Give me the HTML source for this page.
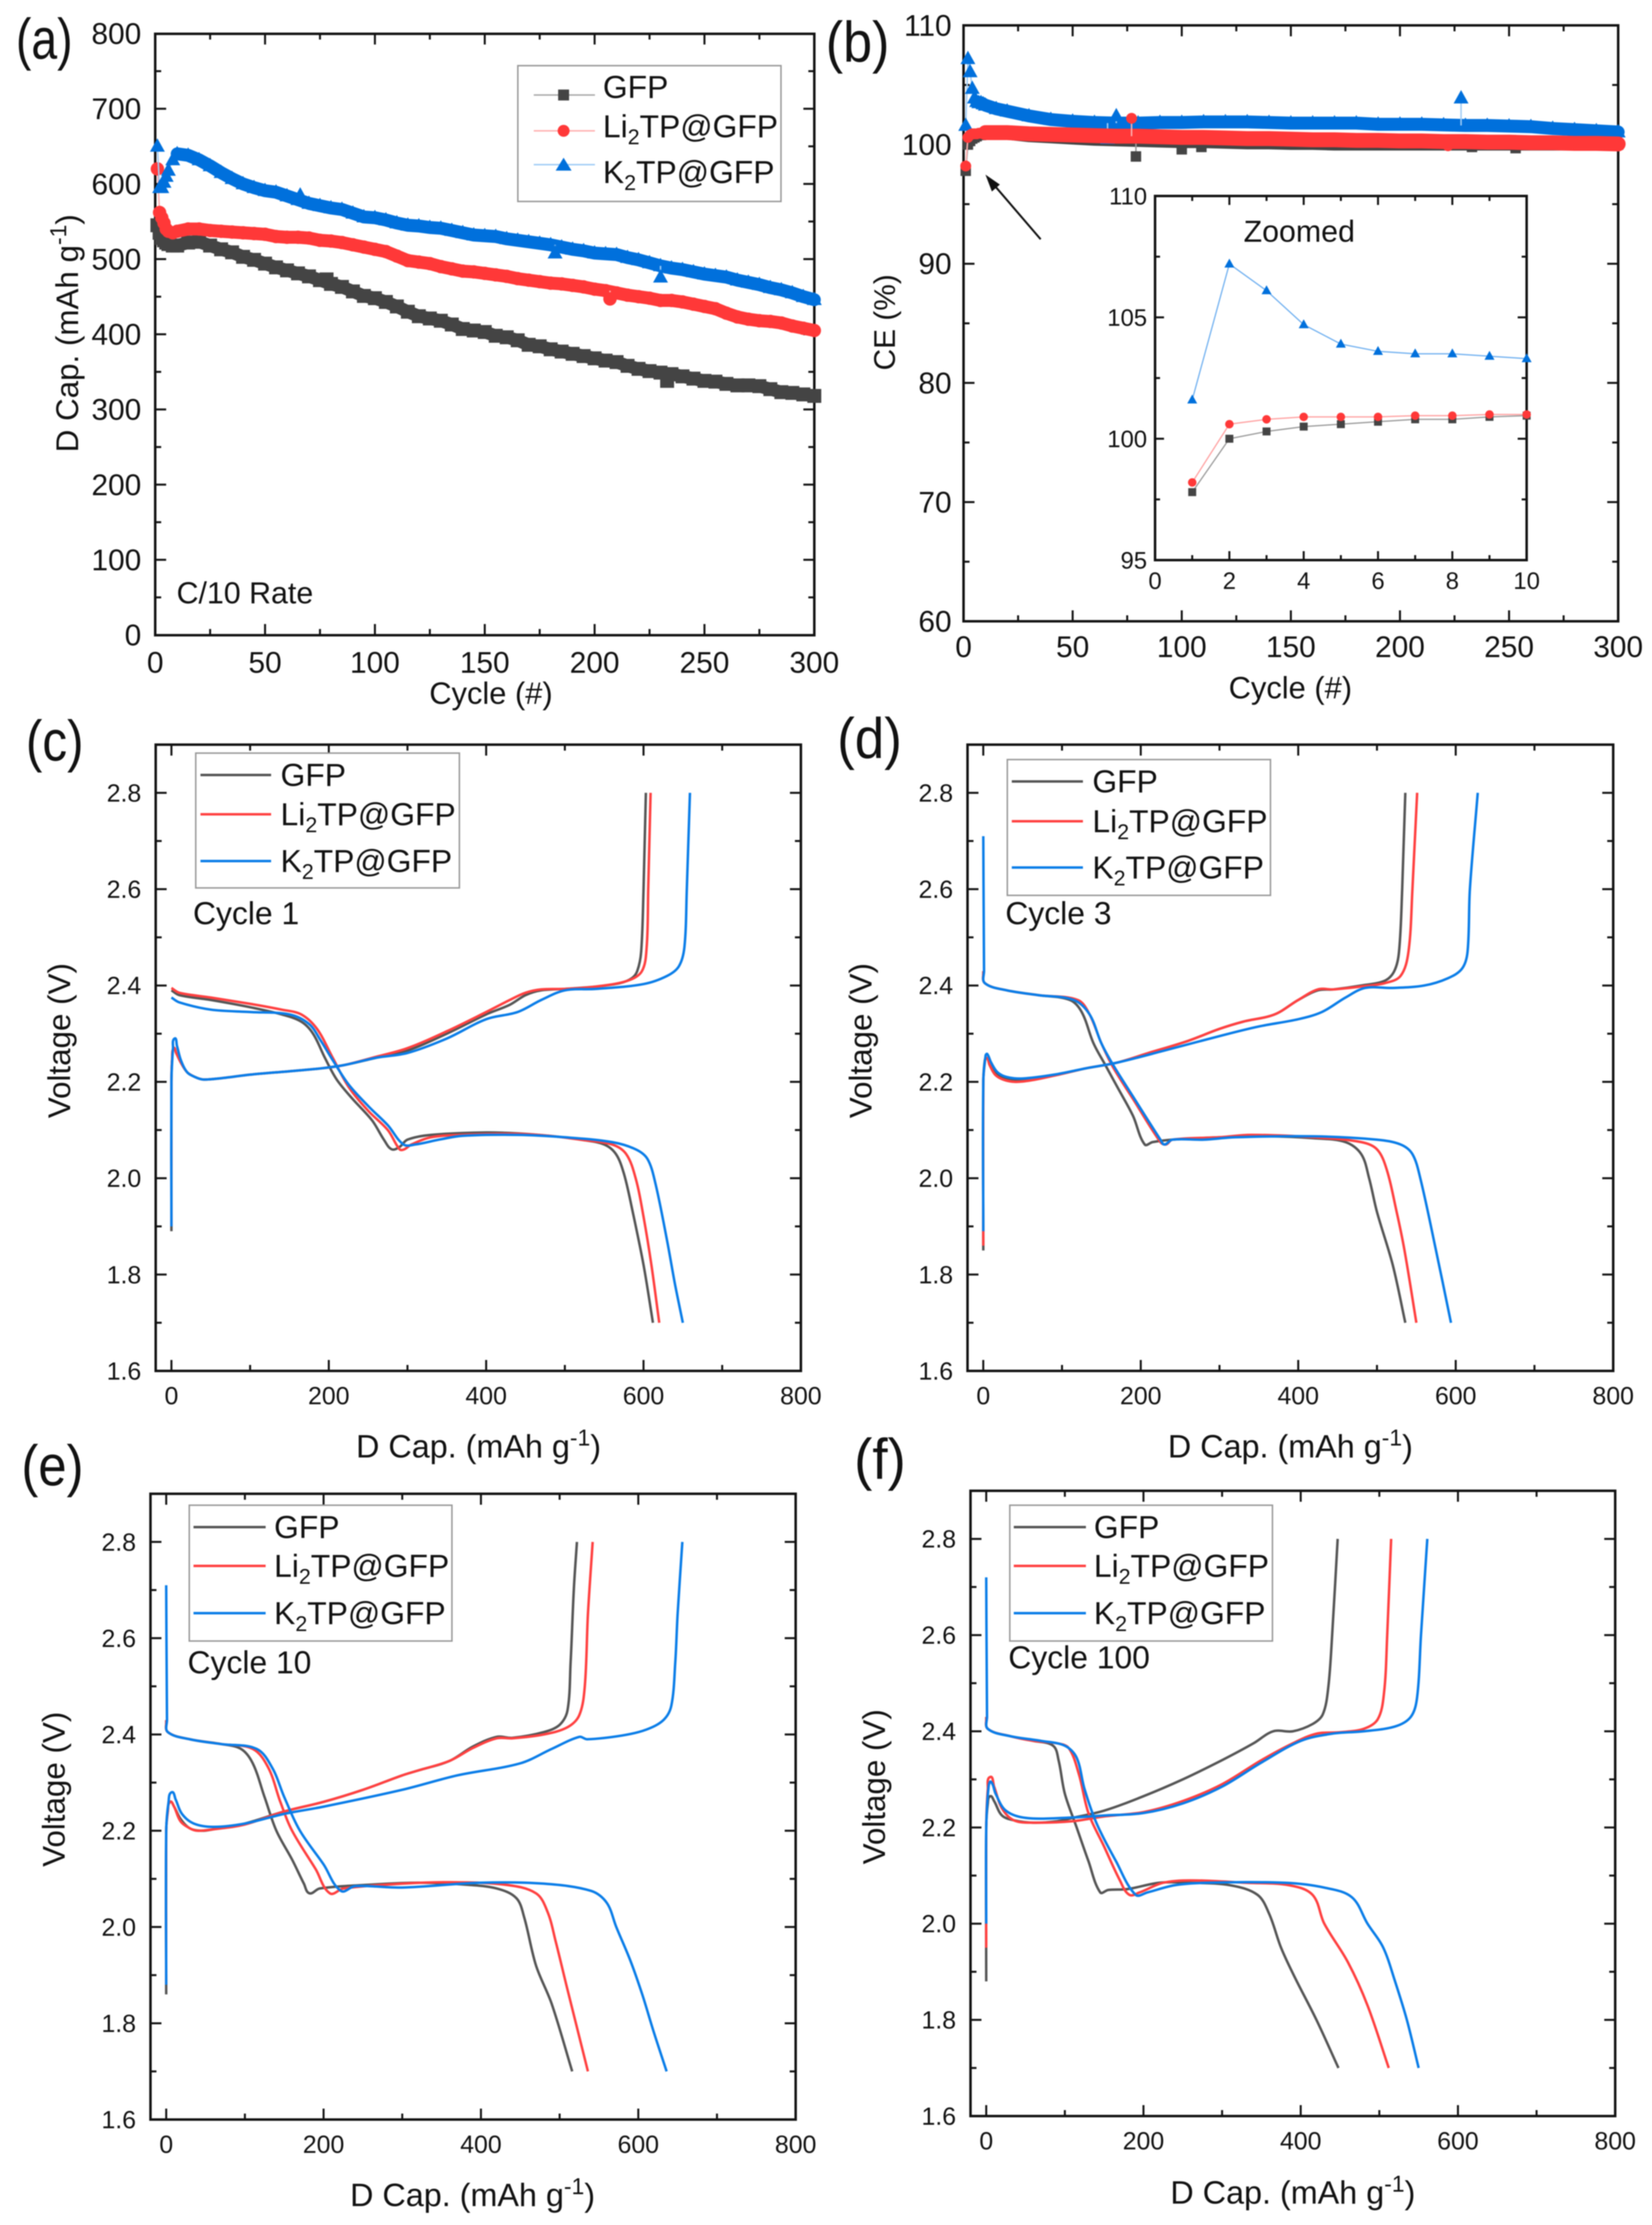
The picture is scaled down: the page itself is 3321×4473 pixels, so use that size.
<!DOCTYPE html>
<html lang="en">
<head>
<meta charset="utf-8">
<title>Battery cycling performance of GFP, Li2TP@GFP and K2TP@GFP</title>
<style>
html,body{margin:0;padding:0;background:#fff;width:3321px;height:4473px;overflow:hidden}
svg{position:absolute;left:0;top:0;filter:blur(1.1px)}
text{font-family:"Liberation Sans",Arial,sans-serif;fill:#111}
.t{font-size:62px}
.leg{font-size:64px}
.pl{font-size:115px}
.sup{font-size:46px}
.sub{font-size:43px}
</style>
</head>
<body>
<svg id="fig" xmlns="http://www.w3.org/2000/svg" width="3321" height="4473" viewBox="0 0 3321 4473">
<rect width="3321" height="4473" fill="#fff"/>

<!-- Panel A -->
<g id="panelA">
<rect x="312" y="68" width="1325" height="1209" fill="none" stroke="#111" stroke-width="5"/>
<text class="pl" x="32" y="118" textLength="114" lengthAdjust="spacingAndGlyphs">(a)</text>
<text class="t" x="157" y="670" text-anchor="middle" style="font-size:63px" transform="rotate(-90 157 670)">D Cap. (mAh g<tspan class="sup" dy="-24">-1</tspan><tspan dy="24">)</tspan></text>
<text class="t" x="987" y="1415" text-anchor="middle">Cycle (#)</text>
<text class="t" x="355" y="1213" style="font-size:61px">C/10 Rate</text>
</g>

<!-- Panel B -->
<g id="panelB">
<rect x="1937" y="51" width="1316" height="1198" fill="none" stroke="#111" stroke-width="5"/>
<text class="pl" x="1660" y="124" textLength="128" lengthAdjust="spacingAndGlyphs">(b)</text>
<text class="t" x="1799" y="648" text-anchor="middle" style="font-size:60px" transform="rotate(-90 1799 648)">CE (%)</text>
<text class="t" x="2594" y="1404" text-anchor="middle">Cycle (#)</text>
</g>

<!-- Panel C -->
<g id="panelC">
<text class="pl" x="52" y="1529" textLength="116" lengthAdjust="spacingAndGlyphs">(c)</text>
<text class="t" x="141" y="2092" text-anchor="middle" style="font-size:63px" transform="rotate(-90 141 2092)">Voltage (V)</text>
<text class="t" x="962" y="2930" text-anchor="middle" style="font-size:65px">D Cap. (mAh g<tspan class="sup" dy="-24">-1</tspan><tspan dy="24">)</tspan></text>
<rect x="313" y="1497" width="1297" height="1259" fill="none" stroke="#111" stroke-width="5"/>
</g>

<!-- Panel D -->
<g id="panelD">
<text class="pl" x="1683" y="1524" textLength="130" lengthAdjust="spacingAndGlyphs">(d)</text>
<text class="t" x="1752" y="2092" text-anchor="middle" style="font-size:63px" transform="rotate(-90 1752 2092)">Voltage (V)</text>
<text class="t" x="2594" y="2930" text-anchor="middle" style="font-size:65px">D Cap. (mAh g<tspan class="sup" dy="-24">-1</tspan><tspan dy="24">)</tspan></text>
<rect x="1945" y="1497" width="1298" height="1259" fill="none" stroke="#111" stroke-width="5"/>
</g>

<!-- Panel E -->
<g id="panelE">
<text class="pl" x="43" y="2986" textLength="125" lengthAdjust="spacingAndGlyphs">(e)</text>
<text class="t" x="130" y="3597" text-anchor="middle" style="font-size:63px" transform="rotate(-90 130 3597)">Voltage (V)</text>
<text class="t" x="950" y="4435" text-anchor="middle" style="font-size:65px">D Cap. (mAh g<tspan class="sup" dy="-24">-1</tspan><tspan dy="24">)</tspan></text>
<rect x="302.5" y="3003" width="1297" height="1258" fill="none" stroke="#111" stroke-width="5"/>
</g>

<!-- Panel F -->
<g id="panelF">
<text class="pl" x="1717" y="2973" textLength="104" lengthAdjust="spacingAndGlyphs">(f)</text>
<text class="t" x="1779" y="3592" text-anchor="middle" style="font-size:63px" transform="rotate(-90 1779 3592)">Voltage (V)</text>
<text class="t" x="2599" y="4430" text-anchor="middle" style="font-size:65px">D Cap. (mAh g<tspan class="sup" dy="-24">-1</tspan><tspan dy="24">)</tspan></text>
<rect x="1951" y="2997" width="1296" height="1257" fill="none" stroke="#111" stroke-width="5"/>
</g>

<!-- Series layers are inserted by script here -->
<g id="marks"></g>

<!-- Inset -->
<g id="inset">
<rect x="2322" y="394" width="747" height="732" fill="#fff" stroke="#111" stroke-width="5"/>
<text class="t" x="2500" y="486" style="font-size:61px">Zoomed</text>
</g>
<g id="insetMarks"></g>

<!-- Arrow -->
<g>
<line x1="2092" y1="481" x2="1995" y2="368" stroke="#111" stroke-width="4"/>
<polygon points="1981,351 2010,371 1994,385" fill="#111"/>
</g>

<!-- Legend A -->
<g>
<rect x="1041" y="132" width="529" height="273" fill="#fff" stroke="#999" stroke-width="3"/>
<line x1="1073" y1="191" x2="1196" y2="191" stroke="#aaa" stroke-width="3"/>
<rect x="1122" y="180" width="22" height="22" fill="#444"/>
<text class="leg" x="1212" y="197">GFP</text>
<line x1="1073" y1="263" x2="1196" y2="263" stroke="#ffb0b0" stroke-width="3"/>
<circle cx="1133" cy="263" r="12" fill="#ff3838"/>
<text class="leg" x="1212" y="276">Li<tspan class="sub" dy="14">2</tspan><tspan dy="-14">TP@GFP</tspan></text>
<line x1="1073" y1="331" x2="1196" y2="331" stroke="#a0ccf5" stroke-width="3"/>
<polygon points="1133,317 1149,343 1117,343" fill="#0070dc"/>
<text class="leg" x="1212" y="368">K<tspan class="sub" dy="14">2</tspan><tspan dy="-14">TP@GFP</tspan></text>
</g>

<!-- Legend C -->
<g>
<rect x="393.5" y="1514" width="530" height="271" fill="#fff" stroke="#999" stroke-width="3"/>
<line x1="403" y1="1558" x2="545" y2="1558" stroke="#555" stroke-width="5"/>
<text class="leg" x="564" y="1580">GFP</text>
<line x1="403" y1="1637" x2="545" y2="1637" stroke="#ff4040" stroke-width="5"/>
<text class="leg" x="564" y="1659">Li<tspan class="sub" dy="14">2</tspan><tspan dy="-14">TP@GFP</tspan></text>
<line x1="403" y1="1731" x2="545" y2="1731" stroke="#0a7de8" stroke-width="5"/>
<text class="leg" x="564" y="1753">K<tspan class="sub" dy="14">2</tspan><tspan dy="-14">TP@GFP</tspan></text>
<text class="leg" x="388" y="1858">Cycle 1</text>
</g>

<!-- Legend D -->
<g>
<rect x="2025" y="1527" width="529" height="273" fill="#fff" stroke="#999" stroke-width="3"/>
<line x1="2034" y1="1571" x2="2177" y2="1571" stroke="#555" stroke-width="5"/>
<text class="leg" x="2196" y="1593">GFP</text>
<line x1="2034" y1="1651" x2="2177" y2="1651" stroke="#ff4040" stroke-width="5"/>
<text class="leg" x="2196" y="1673">Li<tspan class="sub" dy="14">2</tspan><tspan dy="-14">TP@GFP</tspan></text>
<line x1="2034" y1="1744" x2="2177" y2="1744" stroke="#0a7de8" stroke-width="5"/>
<text class="leg" x="2196" y="1766">K<tspan class="sub" dy="14">2</tspan><tspan dy="-14">TP@GFP</tspan></text>
<text class="leg" x="2021" y="1858">Cycle 3</text>
</g>

<!-- Legend E -->
<g>
<rect x="380.5" y="3026" width="528" height="273" fill="#fff" stroke="#999" stroke-width="3"/>
<line x1="389" y1="3070" x2="534" y2="3070" stroke="#555" stroke-width="5"/>
<text class="leg" x="551" y="3092">GFP</text>
<line x1="389" y1="3148" x2="534" y2="3148" stroke="#ff4040" stroke-width="5"/>
<text class="leg" x="551" y="3170">Li<tspan class="sub" dy="14">2</tspan><tspan dy="-14">TP@GFP</tspan></text>
<line x1="389" y1="3243" x2="534" y2="3243" stroke="#0a7de8" stroke-width="5"/>
<text class="leg" x="551" y="3265">K<tspan class="sub" dy="14">2</tspan><tspan dy="-14">TP@GFP</tspan></text>
<text class="leg" x="377" y="3364">Cycle 10</text>
</g>

<!-- Legend F -->
<g>
<rect x="2030" y="3026" width="528" height="273" fill="#fff" stroke="#999" stroke-width="3"/>
<line x1="2038" y1="3070" x2="2183" y2="3070" stroke="#555" stroke-width="5"/>
<text class="leg" x="2199" y="3092">GFP</text>
<line x1="2038" y1="3148" x2="2183" y2="3148" stroke="#ff4040" stroke-width="5"/>
<text class="leg" x="2199" y="3170">Li<tspan class="sub" dy="14">2</tspan><tspan dy="-14">TP@GFP</tspan></text>
<line x1="2038" y1="3243" x2="2183" y2="3243" stroke="#0a7de8" stroke-width="5"/>
<text class="leg" x="2199" y="3265">K<tspan class="sub" dy="14">2</tspan><tspan dy="-14">TP@GFP</tspan></text>
<text class="leg" x="2027" y="3354">Cycle 100</text>
</g>
</svg>

<script>
// ---------- Panel (a) data ----------
const capCycles = [1,2,3,4,5,6,8,10,15,20,25,30,35,40,45,50,55,60,65,70,75,80,85,90,95,100,105,110,115,120,125,130,135,140,145,150,155,160,165,170,175,180,185,190,195,200,205,210,215,220,225,230,235,240,245,250,255,260,265,270,275,280,285,290,295,300];
const capGfp = [545,535,528,525,522,520,518,518,522,523,518,513,509,503,499,494,489,485,481,477,472,467,463,457,451,448,443,437,430,424,421,418,413,407,405,403,398,396,392,386,384,380,377,374,371,368,365,363,358,354,351,349,347,344,341,338,337,334,332,332,331,327,323,322,320,318];
const capLi = [620,562,555,548,540,537,535,537,540,540,538,537,536,535,534,533,530,529,529,528,525,524,522,519,516,513,510,504,498,496,494,490,487,484,483,481,479,477,474,472,470,468,467,465,463,460,458,455,452,450,448,445,445,443,440,437,434,428,423,420,418,417,415,411,408,405];
const capK = [650,595,595,602,610,618,632,640,638,632,624,615,607,600,595,591,589,584,579,574,571,568,566,561,556,555,552,548,545,544,542,541,538,535,532,531,530,527,525,523,521,519,516,513,511,508,507,506,502,499,495,491,488,486,483,480,478,476,472,469,466,462,459,455,450,446];
const capGfpOutlierCycles = [78,233];
const capGfpOutlierValues = [473,338];
const capLiOutlierCycles = [207];
const capLiOutlierValues = [447];
const capKOutlierCycles = [66,182,230];
const capKOutlierValues = [585,508,476];

// ---------- Panel (b) data ----------
const ceCycles = [1,2,3,4,5,6,7,8,9,10,15,20,30,40,50,60,70,80,90,100,110,120,130,140,150,160,170,180,190,200,210,220,230,240,250,260,270,280,290,300];
const ceGfp = [97.8,100,100.3,100.5,100.6,100.7,100.8,100.8,100.9,100.95,101,100.9,100.7,100.6,100.5,100.4,100.35,100.3,100.25,100.2,100.2,100.15,100.1,100.1,100.05,100.05,100,100,100,100,100,100,100,100,100,100,100,100,100,100];
const ceLi = [98.2,100.6,100.8,100.9,100.9,100.9,100.95,100.95,101,101,101,101,100.9,100.85,100.8,100.75,100.7,100.7,100.65,100.6,100.6,100.55,100.5,100.5,100.45,100.4,100.4,100.35,100.35,100.3,100.3,100.25,100.25,100.2,100.2,100.15,100.15,100.1,100.1,100.05];
const ceK = [101.6,107.2,106.1,104.7,103.9,103.6,103.5,103.5,103.4,103.3,103,102.8,102.4,102.1,101.95,101.85,101.8,101.8,101.85,101.85,101.9,101.9,101.9,101.85,101.8,101.8,101.8,101.8,101.7,101.7,101.7,101.65,101.6,101.6,101.55,101.5,101.35,101.25,101.15,101.05];
const ceGfpOutlierCycles = [79,100,109,233,253];
const ceGfpOutlierValues = [99,99.6,99.8,99.8,99.7];
const ceLiOutlierCycles = [77,222];
const ceLiOutlierValues = [102.2,99.9];
const ceKOutlierCycles = [66,70,82,228];
const ceKOutlierValues = [100.5,102.4,101.4,103.9];

// ---------- Tick labels ----------
const capMajorTicks = [0,100,200,300,400,500,600,700,800];
const capMinorTicks = [50,150,250,350,450,550,650,750];
const cycleMajorTicks = [0,50,100,150,200,250,300];
const cycleMinorTicks = [25,75,125,175,225,275];
const ceMajorTicks = [60,70,80,90,100,110];
const ceMinorTicks = [65,75,85,95,105];
const insetXMajorTicks = [0,2,4,6,8,10];
const insetXMinorTicks = [1,3,5,7,9];
const insetYMajorTicks = [95,100,105,110];
const insetYMinorTicks = [97.5,102.5,107.5];
const dcapMajorTicks = [0,200,400,600,800];
const dcapMinorTicks = [100,300,500,700];
const voltageMajorTicks = ['1.6','1.8','2.0','2.2','2.4','2.6','2.8'];
const voltageMinorTicks = [1.7,1.9,2.1,2.3,2.5,2.7];

// ---------- Voltage profiles: [capacity, voltage] ----------
const c1GfpCharge = [[0,1.89],[0,2.2],[1,2.25],[3,2.27],[6,2.26],[12,2.24],[20,2.22],[30,2.21],[40,2.205],[60,2.207],[100,2.215],[150,2.222],[190,2.228],[220,2.235],[260,2.25],[300,2.265],[350,2.3],[400,2.34],[430,2.36],[450,2.38],[470,2.39],[500,2.393],[540,2.398],[570,2.405],[585,2.415],[592,2.43],[597,2.47],[600,2.6],[603,2.8]];
const c1GfpDischarge = [[0,2.39],[10,2.38],[50,2.37],[100,2.355],[140,2.34],[165,2.325],[180,2.3],[195,2.25],[210,2.205],[230,2.165],[255,2.12],[270,2.08],[280,2.06],[290,2.065],[300,2.08],[330,2.09],[400,2.095],[440,2.093],[480,2.088],[520,2.08],[550,2.07],[565,2.05],[575,2.01],[585,1.94],[600,1.82],[612,1.7]];
const c1LiCharge = [[0,1.9],[0,2.2],[1,2.25],[3,2.27],[6,2.26],[12,2.24],[20,2.22],[30,2.21],[40,2.205],[60,2.207],[100,2.215],[150,2.222],[190,2.228],[220,2.235],[260,2.252],[300,2.27],[350,2.305],[400,2.345],[430,2.37],[450,2.385],[470,2.392],[500,2.393],[540,2.398],[580,2.41],[598,2.43],[604,2.48],[606,2.6],[609,2.8]];
const c1LiDischarge = [[0,2.395],[10,2.385],[50,2.375],[100,2.362],[140,2.35],[165,2.34],[185,2.31],[205,2.25],[225,2.19],[250,2.14],[275,2.1],[290,2.06],[296,2.06],[305,2.07],[330,2.085],[370,2.09],[440,2.092],[480,2.088],[520,2.08],[560,2.07],[578,2.05],[590,2],[600,1.92],[610,1.82],[620,1.7]];
const c1KCharge = [[0,1.9],[0,2.2],[2,2.27],[4,2.29],[7,2.275],[12,2.245],[20,2.22],[30,2.21],[40,2.205],[60,2.207],[100,2.215],[150,2.222],[190,2.228],[220,2.235],[260,2.25],[300,2.26],[350,2.29],[400,2.33],[440,2.345],[470,2.37],[500,2.39],[540,2.393],[600,2.403],[630,2.42],[645,2.44],[652,2.48],[655,2.6],[659,2.8]];
const c1KDischarge = [[0,2.375],[10,2.365],[50,2.35],[100,2.345],[150,2.34],[175,2.32],[190,2.285],[205,2.245],[225,2.195],[250,2.15],[275,2.11],[295,2.07],[310,2.07],[340,2.08],[370,2.088],[440,2.09],[500,2.085],[560,2.075],[590,2.06],[605,2.04],[615,1.99],[630,1.87],[640,1.78],[650,1.7]];

const c3GfpCharge = [[0,1.85],[0,2.2],[2,2.245],[4,2.25],[8,2.24],[15,2.22],[25,2.21],[40,2.205],[60,2.205],[90,2.213],[130,2.228],[170,2.24],[210,2.26],[260,2.285],[300,2.31],[330,2.325],[370,2.34],[400,2.37],[425,2.39],[445,2.392],[480,2.4],[510,2.41],[522,2.43],[528,2.47],[532,2.6],[536,2.8]];
const c3GfpDischarge = [[0,2.43],[2,2.405],[30,2.39],[70,2.38],[110,2.37],[125,2.345],[140,2.28],[155,2.235],[170,2.19],[190,2.13],[205,2.07],[215,2.075],[240,2.08],[300,2.085],[360,2.087],[420,2.083],[460,2.075],[480,2.05],[490,2],[500,1.93],[520,1.82],[536,1.7]];
const c3LiCharge = [[0,1.86],[0,2.2],[2,2.24],[4,2.25],[8,2.235],[15,2.215],[25,2.205],[40,2.2],[60,2.203],[90,2.213],[130,2.228],[170,2.24],[210,2.26],[260,2.285],[300,2.31],[330,2.325],[370,2.34],[400,2.37],[425,2.392],[445,2.392],[480,2.398],[510,2.405],[530,2.42],[540,2.47],[545,2.6],[551,2.8]];
const c3LiDischarge = [[0,2.43],[2,2.405],[30,2.39],[70,2.38],[120,2.37],[135,2.34],[150,2.28],[165,2.23],[190,2.165],[225,2.075],[232,2.07],[240,2.08],[300,2.085],[340,2.09],[420,2.085],[480,2.075],[500,2.06],[512,2.02],[525,1.93],[535,1.85],[550,1.7]];
const c3KCharge = [[0,1.89],[0,2.2],[3,2.255],[5,2.258],[10,2.24],[18,2.22],[30,2.21],[50,2.207],[90,2.215],[130,2.228],[170,2.24],[230,2.265],[300,2.295],[350,2.315],[400,2.33],[430,2.345],[460,2.375],[485,2.395],[520,2.395],[560,2.4],[590,2.415],[608,2.435],[615,2.47],[618,2.6],[628,2.8]];
const c3KDischarge = [[0,2.71],[1,2.43],[2,2.405],[30,2.39],[70,2.38],[115,2.37],[135,2.34],[150,2.28],[165,2.235],[190,2.17],[225,2.08],[230,2.07],[240,2.08],[280,2.08],[320,2.085],[420,2.087],[500,2.08],[530,2.07],[545,2.05],[555,2],[575,1.85],[594,1.7]];

const c10GfpCharge = [[0,1.86],[0,2.2],[2,2.24],[5,2.26],[10,2.25],[18,2.225],[30,2.205],[45,2.2],[60,2.203],[100,2.215],[150,2.24],[200,2.26],[250,2.285],[300,2.315],[320,2.325],[360,2.345],[390,2.375],[420,2.395],[440,2.393],[480,2.405],[500,2.42],[510,2.45],[514,2.55],[518,2.7],[522,2.8]];
const c10GfpDischarge = [[0,2.43],[2,2.405],[30,2.39],[70,2.38],[95,2.37],[110,2.34],[125,2.27],[140,2.2],[160,2.14],[175,2.09],[182,2.07],[195,2.08],[260,2.088],[320,2.092],[380,2.088],[420,2.08],[445,2.06],[455,2.02],[470,1.92],[490,1.84],[516,1.7]];
const c10LiCharge = [[0,1.88],[0,2.2],[2,2.24],[5,2.26],[10,2.25],[18,2.22],[30,2.205],[40,2.2],[60,2.203],[100,2.213],[150,2.24],[200,2.26],[250,2.285],[300,2.315],[320,2.325],[360,2.345],[390,2.372],[420,2.392],[440,2.392],[480,2.4],[510,2.415],[525,2.44],[532,2.5],[536,2.65],[542,2.8]];
const c10LiDischarge = [[0,2.43],[2,2.405],[30,2.39],[70,2.38],[110,2.37],[130,2.33],[145,2.26],[160,2.2],[190,2.12],[208,2.07],[225,2.08],[300,2.09],[360,2.093],[430,2.088],[470,2.07],[485,2.03],[495,1.97],[510,1.87],[536,1.7]];
const c10KCharge = [[0,1.88],[0,2.2],[3,2.26],[7,2.28],[12,2.265],[20,2.235],[35,2.215],[60,2.208],[100,2.215],[150,2.235],[200,2.25],[300,2.285],[370,2.315],[450,2.34],[490,2.37],[525,2.395],[535,2.39],[580,2.398],[610,2.41],[632,2.43],[642,2.46],[647,2.55],[650,2.65],[656,2.8]];
const c10KDischarge = [[0,2.71],[1,2.43],[2,2.405],[30,2.39],[70,2.38],[115,2.37],[135,2.33],[150,2.27],[170,2.2],[200,2.13],[222,2.075],[240,2.085],[300,2.082],[400,2.092],[480,2.09],[540,2.075],[560,2.05],[572,2],[590,1.93],[605,1.86],[620,1.78],[636,1.7]];

const c100GfpCharge = [[0,1.88],[0,2.2],[2,2.25],[5,2.265],[10,2.255],[20,2.225],[35,2.215],[60,2.21],[90,2.213],[110,2.22],[150,2.235],[200,2.265],[250,2.3],[300,2.34],[340,2.375],[365,2.4],[390,2.4],[415,2.415],[428,2.435],[435,2.49],[440,2.6],[447,2.8]];
const c100GfpDischarge = [[0,2.43],[2,2.405],[30,2.39],[60,2.38],[85,2.37],[92,2.34],[100,2.27],[115,2.2],[130,2.13],[145,2.065],[155,2.07],[180,2.072],[220,2.085],[260,2.085],[310,2.08],[345,2.06],[360,2.02],[375,1.95],[392,1.89],[420,1.8],[448,1.7]];
const c100LiCharge = [[0,1.95],[0,2.2],[2,2.28],[5,2.305],[10,2.285],[20,2.24],[35,2.215],[60,2.21],[110,2.213],[150,2.223],[200,2.232],[250,2.255],[300,2.29],[350,2.34],[390,2.375],[420,2.395],[450,2.398],[480,2.405],[498,2.425],[506,2.48],[510,2.6],[515,2.8]];
const c100LiDischarge = [[0,2.43],[2,2.405],[30,2.39],[60,2.38],[90,2.375],[105,2.365],[118,2.31],[130,2.23],[150,2.16],[170,2.09],[182,2.06],[195,2.065],[225,2.085],[260,2.09],[330,2.085],[385,2.08],[415,2.06],[430,2],[460,1.92],[485,1.83],[512,1.7]];
const c100KCharge = [[0,2],[0,2.2],[3,2.285],[6,2.295],[12,2.27],[25,2.235],[50,2.22],[100,2.22],[150,2.225],[200,2.23],[250,2.25],[300,2.285],[350,2.335],[400,2.38],[440,2.395],[480,2.4],[520,2.41],[540,2.43],[548,2.47],[553,2.6],[561,2.8]];
const c100KDischarge = [[0,2.72],[1,2.43],[2,2.405],[30,2.39],[70,2.38],[100,2.37],[115,2.345],[125,2.28],[140,2.21],[165,2.13],[190,2.06],[205,2.065],[240,2.08],[280,2.085],[380,2.085],[430,2.075],[465,2.055],[485,2],[505,1.95],[520,1.88],[535,1.8],[550,1.7]];

// ---------- Helpers ----------
const NS = 'http://www.w3.org/2000/svg';
const GREY = '#444444', RED = '#ff3838', BLUE = '#0070dc';
const LINE_GREY = '#555555', LINE_RED = '#ff4040', LINE_BLUE = '#0a7de8';
const marks = document.getElementById('marks');
const insetMarks = document.getElementById('insetMarks');

function mk(tag, attrs, parent, name) {
  const el = document.createElementNS(NS, tag);
  for (const k in attrs) el.setAttribute(k, attrs[k]);
  
  
  parent.appendChild(el);
  return el;
}
function scale(d0, d1, p0, p1) {
  return v => p0 + (v - d0) * (p1 - p0) / (d1 - d0);
}
function pathOf(pts) {
  return pts.map((p, i) => (i ? 'L' : 'M') + p[0].toFixed(1) + ' ' + p[1].toFixed(1)).join('');
}
// Smooth curve: tangent follows neighbours, handle length limited by each segment so nothing overshoots
function smoothPathOf(pts) {
  const tan = pts.map((p, i) => {
    const a = pts[Math.max(i - 1, 0)], b = pts[Math.min(i + 1, pts.length - 1)];
    const dx = b[0] - a[0], dy = b[1] - a[1], len = Math.hypot(dx, dy) || 1;
    return [dx / len, dy / len];
  });
  let d = 'M' + pts[0][0].toFixed(1) + ' ' + pts[0][1].toFixed(1);
  for (let i = 1; i < pts.length; i++) {
    const p = pts[i - 1], q = pts[i], seg = Math.hypot(q[0] - p[0], q[1] - p[1]) / 3;
    d += 'C' + (p[0] + tan[i - 1][0] * seg).toFixed(1) + ' ' + (p[1] + tan[i - 1][1] * seg).toFixed(1) + ' ' +
         (q[0] - tan[i][0] * seg).toFixed(1) + ' ' + (q[1] - tan[i][1] * seg).toFixed(1) + ' ' +
         q[0].toFixed(1) + ' ' + q[1].toFixed(1);
  }
  return d;
}
function drawAxes(o, parent) {
  const g = mk('g', {}, parent, o.name + '-axes');
  const s = {stroke: '#111', 'stroke-width': o.tw || 4};
  const tick = (x1, y1, x2, y2, nm) => mk('line', Object.assign({x1, y1, x2, y2}, s), g, nm);
  const maj = o.maj || 22, min = o.min || 12;
  [[o.xMajor, maj], [o.xMinor, min]].forEach(([arr, len]) => arr.forEach(v => {
    const x = o.x(v);
    tick(x, o.bottom, x, o.bottom - len, o.name + '-x-tick');
    tick(x, o.top, x, o.top + len, o.name + '-x-tick-top');
  }));
  [[o.yMajor, maj], [o.yMinor, min]].forEach(([arr, len]) => arr.forEach(v => {
    const y = o.y(+v);
    tick(o.left, y, o.left + len, y, o.name + '-y-tick');
    tick(o.right, y, o.right - len, y, o.name + '-y-tick-right');
  }));
  o.xMajor.forEach(v => {
    const t = mk('text', {x: o.x(v), y: o.bottom + o.xLab, 'text-anchor': 'middle', style: 'font-size:' + o.fs + 'px'}, g, o.name + '-x-tick-label');
    t.textContent = v;
  });
  o.yMajor.forEach(v => {
    const t = mk('text', {x: o.left - o.yLab, y: o.y(+v) + o.fs * 0.35, 'text-anchor': 'end', style: 'font-size:' + o.fs + 'px'}, g, o.name + '-y-tick-label');
    t.textContent = v;
  });
}
function drawMarker(parent, kind, px, py, size, color, name) {
  if (kind === 'square') {
    mk('rect', {x: px - size / 2, y: py - size / 2, width: size, height: size, fill: color}, parent, name);
  } else if (kind === 'circle') {
    mk('circle', {cx: px, cy: py, r: size / 2, fill: color}, parent, name);
  } else {
    const h = size * 0.9;
    mk('polygon', {points: [px, py - h * 0.6, px + size / 2, py + h * 0.4, px - size / 2, py + h * 0.4].join(' '), fill: color}, parent, name);
  }
}
function drawScatter(o) {
  const g = mk('g', {}, o.parent, o.name);
  const pts = o.xs.map((c, i) => [o.x(c), o.y(o.ys[i])]);
  mk('path', {d: pathOf(pts), fill: 'none', stroke: o.light, 'stroke-width': o.thin || 3}, g, o.name + '-line');
  if (o.band) {
    const tail = pts.filter((p, i) => o.xs[i] >= o.bandFrom);
    mk('path', {d: pathOf(tail), fill: 'none', stroke: o.color, 'stroke-width': o.band, 'stroke-linejoin': 'round', 'stroke-linecap': 'round'}, g, o.name + '-band');
  }
  pts.forEach(p => drawMarker(g, o.kind, p[0], p[1], o.size, o.color, o.name + '-point'));
  (o.ox || []).forEach((c, i) => {
    // stem from the neighbouring series value up/down to the outlier
    let near = 0;
    o.xs.forEach((v, j) => { if (Math.abs(v - c) < Math.abs(o.xs[near] - c)) near = j; });
    mk('line', {x1: o.x(c), y1: o.y(o.oy[i]), x2: o.x(c), y2: o.y(o.ys[near]), stroke: o.light, 'stroke-width': o.thin || 3}, g, o.name + '-outlier-stem');
    drawMarker(g, o.kind, o.x(c), o.y(o.oy[i]), o.size, o.color, o.name + '-outlier');
  });
}

// ---------- Panel (a) ----------
const ax = scale(0, 300, 312, 1637), ay = scale(0, 800, 1276.5, 67.5);
drawAxes({name: 'panel-a', x: ax, y: ay, left: 312, right: 1637, top: 67.5, bottom: 1276.5, xMajor: cycleMajorTicks, xMinor: cycleMinorTicks, yMajor: capMajorTicks, yMinor: capMinorTicks, fs: 60, xLab: 76, yLab: 28}, marks);
drawScatter({parent: marks, name: 'series-gfp-capacity', x: ax, y: ay, xs: capCycles, ys: capGfp, ox: capGfpOutlierCycles, oy: capGfpOutlierValues, kind: 'square', size: 28, color: GREY, light: '#999', band: 26, bandFrom: 10});
drawScatter({parent: marks, name: 'series-li2tp-capacity', x: ax, y: ay, xs: capCycles, ys: capLi, ox: capLiOutlierCycles, oy: capLiOutlierValues, kind: 'circle', size: 27, color: RED, light: '#ffb0b0', band: 26, bandFrom: 10});
drawScatter({parent: marks, name: 'series-k2tp-capacity', x: ax, y: ay, xs: capCycles, ys: capK, ox: capKOutlierCycles, oy: capKOutlierValues, kind: 'triangle', size: 30, color: BLUE, light: '#a0ccf5', band: 26, bandFrom: 10});

// ---------- Panel (b) ----------
const bx = scale(0, 300, 1937, 3253), by = scale(60, 110, 1249, 51);
drawAxes({name: 'panel-b', x: bx, y: by, left: 1937, right: 3253, top: 51, bottom: 1249, xMajor: cycleMajorTicks, xMinor: cycleMinorTicks, yMajor: ceMajorTicks, yMinor: ceMinorTicks, fs: 60, xLab: 72, yLab: 24}, marks);
drawScatter({parent: marks, name: 'series-gfp-ce', x: bx, y: by, xs: ceCycles, ys: ceGfp, ox: ceGfpOutlierCycles, oy: ceGfpOutlierValues, kind: 'square', size: 21, color: GREY, light: '#999', band: 24, bandFrom: 10});
drawScatter({parent: marks, name: 'series-k2tp-ce', x: bx, y: by, xs: ceCycles, ys: ceK, ox: ceKOutlierCycles, oy: ceKOutlierValues, kind: 'triangle', size: 30, color: BLUE, light: '#a0ccf5', band: 26, bandFrom: 6});
drawScatter({parent: marks, name: 'series-li2tp-ce', x: bx, y: by, xs: ceCycles, ys: ceLi, ox: ceLiOutlierCycles, oy: ceLiOutlierValues, kind: 'circle', size: 22, color: RED, light: '#ffb0b0', band: 30, bandFrom: 10});

// ---------- Inset ----------
const ix = scale(0, 10, 2322, 3069), iy = scale(95, 110, 1126, 394);
const insetCycles = ceCycles.slice(0, 10);
drawScatter({parent: insetMarks, name: 'inset-series-gfp', x: ix, y: iy, xs: insetCycles, ys: ceGfp.slice(0, 10), kind: 'square', size: 16, color: GREY, light: '#999', thin: 2.5});
drawScatter({parent: insetMarks, name: 'inset-series-li2tp', x: ix, y: iy, xs: insetCycles, ys: ceLi.slice(0, 10), kind: 'circle', size: 17, color: RED, light: '#ffa0a0', thin: 2.5});
drawScatter({parent: insetMarks, name: 'inset-series-k2tp', x: ix, y: iy, xs: insetCycles, ys: ceK.slice(0, 10), kind: 'triangle', size: 20, color: BLUE, light: '#70b0f0', thin: 2.5});
drawAxes({name: 'inset', x: ix, y: iy, left: 2322, right: 3069, top: 394, bottom: 1126, xMajor: insetXMajorTicks, xMinor: insetXMinorTicks, yMajor: insetYMajorTicks, yMinor: insetYMinorTicks, fs: 48, xLab: 58, yLab: 16, maj: 18, min: 10}, insetMarks);

// ---------- Panels (c)-(f) ----------
function drawVoltagePanel(name, left, right, top, bottom, series) {
  const x = scale(-20, 800, left, right), y = scale(1.6, 2.9, bottom, top);
  drawAxes({name, x, y, left, right, top, bottom, xMajor: dcapMajorTicks, xMinor: dcapMinorTicks, yMajor: voltageMajorTicks, yMinor: voltageMinorTicks, fs: 50, xLab: 67, yLab: 29}, marks);
  series.forEach(s => {
    [[s.charge, 'charge'], [s.discharge, 'discharge']].forEach(([arr, kind]) => {
      mk('path', {d: smoothPathOf(arr.map(p => [x(p[0]), y(p[1])])), fill: 'none', stroke: s.color, 'stroke-width': 5, 'stroke-linejoin': 'round'}, marks, name + '-' + s.id + '-' + kind + '-curve');
    });
  });
}
drawVoltagePanel('panel-c', 313, 1610, 1497, 2756, [
  {id: 'gfp', color: LINE_GREY, charge: c1GfpCharge, discharge: c1GfpDischarge},
  {id: 'li2tp', color: LINE_RED, charge: c1LiCharge, discharge: c1LiDischarge},
  {id: 'k2tp', color: LINE_BLUE, charge: c1KCharge, discharge: c1KDischarge}]);
drawVoltagePanel('panel-d', 1945, 3243, 1497, 2756, [
  {id: 'gfp', color: LINE_GREY, charge: c3GfpCharge, discharge: c3GfpDischarge},
  {id: 'li2tp', color: LINE_RED, charge: c3LiCharge, discharge: c3LiDischarge},
  {id: 'k2tp', color: LINE_BLUE, charge: c3KCharge, discharge: c3KDischarge}]);
drawVoltagePanel('panel-e', 302.5, 1599.5, 3003, 4261, [
  {id: 'gfp', color: LINE_GREY, charge: c10GfpCharge, discharge: c10GfpDischarge},
  {id: 'li2tp', color: LINE_RED, charge: c10LiCharge, discharge: c10LiDischarge},
  {id: 'k2tp', color: LINE_BLUE, charge: c10KCharge, discharge: c10KDischarge}]);
drawVoltagePanel('panel-f', 1951, 3247, 2997, 4254, [
  {id: 'gfp', color: LINE_GREY, charge: c100GfpCharge, discharge: c100GfpDischarge},
  {id: 'li2tp', color: LINE_RED, charge: c100LiCharge, discharge: c100LiDischarge},
  {id: 'k2tp', color: LINE_BLUE, charge: c100KCharge, discharge: c100KDischarge}]);
</script>
</body>
</html>
